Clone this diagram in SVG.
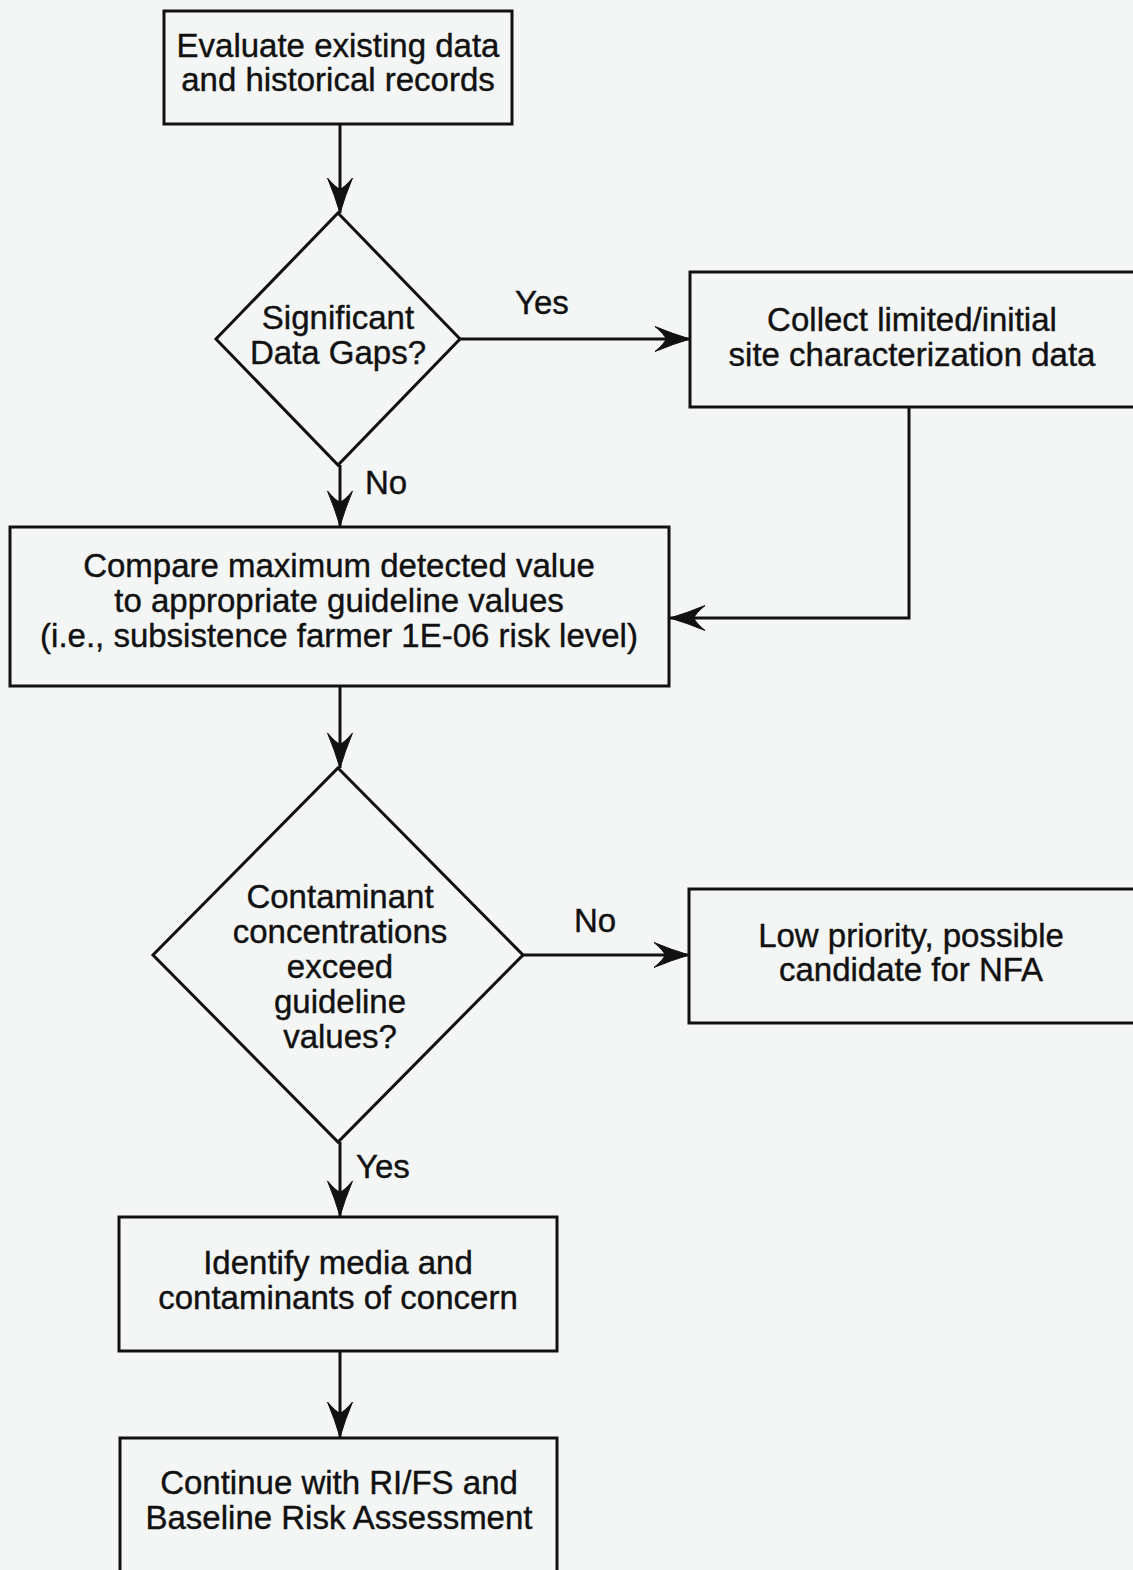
<svg xmlns="http://www.w3.org/2000/svg" width="1133" height="1570" viewBox="0 0 1133 1570">
  <defs>
    <marker id="arrow" markerUnits="userSpaceOnUse" markerWidth="40" markerHeight="30" viewBox="-38 -15 40 30" refX="0" refY="0" orient="auto">
      <path d="M0,0 Q-17,-5 -35,-12.5 Q-25,-4 -24,0 Q-25,4 -35,12.5 Q-17,5 0,0 Z" fill="#111" stroke="#111" stroke-width="1"/>
    </marker>
    <style>
      .box { fill: none; stroke: #111; stroke-width: 3; }
      .link { fill: none; stroke: #111; stroke-width: 3; }
      text { font-family: "Liberation Sans", Arial, sans-serif; font-size: 33px; fill: #111; stroke: #111; stroke-width: 0.4; text-anchor: middle; }
      .lbl { text-anchor: start; }
    </style>
  </defs>

  <rect width="1133" height="1570" fill="#f4f6f5"/>

  <!-- connectors -->
  <g id="connectors">
    <line class="link" x1="340" y1="124" x2="340" y2="213" marker-end="url(#arrow)"/>
    <line class="link" x1="460" y1="339" x2="690" y2="339" marker-end="url(#arrow)"/>
    <line class="link" x1="340" y1="465" x2="340" y2="526" marker-end="url(#arrow)"/>
    <polyline class="link" points="909,407 909,618 670,618" marker-end="url(#arrow)"/>
    <line class="link" x1="340" y1="686" x2="340" y2="768" marker-end="url(#arrow)"/>
    <line class="link" x1="523" y1="955" x2="689" y2="955" marker-end="url(#arrow)"/>
    <line class="link" x1="340" y1="1142" x2="340" y2="1216" marker-end="url(#arrow)"/>
    <line class="link" x1="340" y1="1351" x2="340" y2="1437" marker-end="url(#arrow)"/>
    <text class="lbl" x="515" y="314">Yes</text>
    <text class="lbl" x="365" y="494">No</text>
    <text class="lbl" x="574" y="932">No</text>
    <text class="lbl" x="356" y="1178">Yes</text>
  </g>

  <g id="evaluate">
    <rect class="box" x="164" y="11" width="348" height="113"/>
    <text x="338" y="57">Evaluate existing data</text>
    <text x="338" y="91">and historical records</text>
  </g>

  <g id="data-gaps">
    <polygon class="box" points="338,213 460,339 338,465 216,339"/>
    <text x="338" y="329">Significant</text>
    <text x="338" y="364">Data Gaps?</text>
  </g>

  <g id="collect">
    <rect class="box" x="690" y="272" width="450" height="135"/>
    <text x="912" y="331">Collect limited/initial</text>
    <text x="912" y="366">site characterization data</text>
  </g>

  <g id="compare">
    <rect class="box" x="10" y="527" width="659" height="159"/>
    <text x="339" y="577">Compare maximum detected value</text>
    <text x="339" y="612">to appropriate guideline values</text>
    <text x="339" y="647">(i.e., subsistence farmer 1E-06 risk level)</text>
  </g>

  <g id="exceed">
    <polygon class="box" points="338,768 523,955 338,1142 153,955"/>
    <text x="340" y="908">Contaminant</text>
    <text x="340" y="943">concentrations</text>
    <text x="340" y="978">exceed</text>
    <text x="340" y="1013">guideline</text>
    <text x="340" y="1048">values?</text>
  </g>

  <g id="low-priority">
    <rect class="box" x="689" y="889" width="451" height="134"/>
    <text x="911" y="947">Low priority, possible</text>
    <text x="911" y="981">candidate for NFA</text>
  </g>

  <g id="identify">
    <rect class="box" x="119" y="1217" width="438" height="134"/>
    <text x="338" y="1274">Identify media and</text>
    <text x="338" y="1309">contaminants of concern</text>
  </g>

  <g id="continue">
    <rect class="box" x="120" y="1438" width="437" height="140"/>
    <text x="339" y="1494">Continue with RI/FS and</text>
    <text x="339" y="1529">Baseline Risk Assessment</text>
  </g>
</svg>
